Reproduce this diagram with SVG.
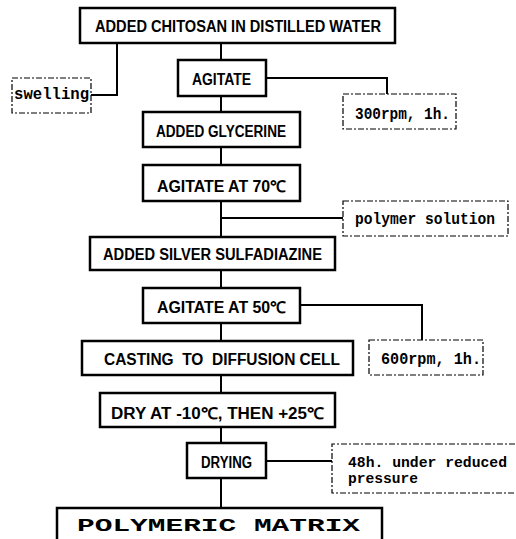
<svg xmlns="http://www.w3.org/2000/svg" width="516" height="539" viewBox="0 0 516 539">
<style>
.box{fill:#fff;stroke:#000;stroke-width:2.5}
.note{fill:#fff;stroke:#000;stroke-width:1.2;stroke-dasharray:6 2 2 2}
.t{font-family:"Liberation Sans",Arial,sans-serif;font-weight:bold;font-size:16px;fill:#000}
.n{font-family:"Liberation Mono","Courier New",monospace;font-weight:bold;font-size:16px;fill:#000}
.s{font-family:"Liberation Mono","Courier New",monospace;font-weight:bold;font-size:14px;fill:#000}
.big{font-family:"Liberation Mono","Courier New",monospace;font-weight:bold;font-size:18px;fill:#000}
.c{fill:none;stroke:#000;stroke-width:2}
</style>
<rect width="516" height="539" fill="#fff"/>
<g id="connectors">
<polyline class="c" points="117,43 117,95 91,95"/>
<line class="c" x1="221" y1="43" x2="221" y2="60"/>
<polyline class="c" points="266,78 387,78 387,94"/>
<line class="c" x1="221" y1="96" x2="221" y2="112"/>
<line class="c" x1="221" y1="147" x2="221" y2="165"/>
<line class="c" x1="221" y1="201" x2="221" y2="237"/>
<line class="c" x1="221" y1="218" x2="343" y2="218"/>
<line class="c" x1="221" y1="270" x2="221" y2="288"/>
<polyline class="c" points="300,305 422,305 422,340"/>
<line class="c" x1="221" y1="323" x2="221" y2="341"/>
<line class="c" x1="221" y1="375" x2="221" y2="393"/>
<line class="c" x1="221" y1="427" x2="221" y2="443"/>
<line class="c" x1="266" y1="461" x2="332" y2="461"/>
<line class="c" x1="221" y1="478" x2="221" y2="508"/>
</g>
<g id="n1"><rect class="box" x="80" y="8" width="315" height="35"/><text class="t" x="95" y="32" textLength="286" lengthAdjust="spacingAndGlyphs">ADDED CHITOSAN IN DISTILLED WATER</text></g>
<g id="swelling"><rect class="note" x="12" y="78" width="79" height="35"/><text class="n" x="14" y="99" textLength="75" lengthAdjust="spacingAndGlyphs">swelling</text></g>
<g id="n2"><rect class="box" x="178" y="60" width="88" height="36"/><text class="t" x="192" y="85" textLength="59" lengthAdjust="spacingAndGlyphs">AGITATE</text></g>
<g id="rpm300"><rect class="note" x="343" y="94" width="113" height="35"/><text class="n" x="355" y="119" textLength="95" lengthAdjust="spacingAndGlyphs">300rpm, 1h.</text></g>
<g id="n3"><rect class="box" x="143" y="112" width="157" height="35"/><text class="t" x="156" y="137" textLength="130" lengthAdjust="spacingAndGlyphs">ADDED GLYCERINE</text></g>
<g id="n4"><rect class="box" x="143" y="165" width="157" height="36"/><text class="t" x="157" y="192" textLength="129" lengthAdjust="spacingAndGlyphs">AGITATE AT 70℃</text></g>
<g id="polysol"><rect class="note" x="343" y="201" width="165" height="35"/><text class="n" x="355" y="224" textLength="140" lengthAdjust="spacingAndGlyphs">polymer solution</text></g>
<g id="n5"><rect class="box" x="90" y="237" width="245" height="33"/><text class="t" x="103" y="260" textLength="219" lengthAdjust="spacingAndGlyphs">ADDED SILVER SULFADIAZINE</text></g>
<g id="n6"><rect class="box" x="143" y="288" width="157" height="35"/><text class="t" x="157" y="313" textLength="129" lengthAdjust="spacingAndGlyphs">AGITATE AT 50℃</text></g>
<g id="rpm600"><rect class="note" x="369" y="340" width="114" height="35"/><text class="n" x="381" y="364" textLength="100" lengthAdjust="spacingAndGlyphs">600rpm, 1h.</text></g>
<g id="n7"><rect class="box" x="82" y="341" width="271" height="34"/><text class="t" x="104" y="365" textLength="236" lengthAdjust="spacingAndGlyphs" xml:space="preserve">CASTING  TO  DIFFUSION CELL</text></g>
<g id="n8"><rect class="box" x="100" y="393" width="235" height="34"/><text class="t" x="111" y="419" textLength="213" lengthAdjust="spacingAndGlyphs">DRY AT -10℃, THEN +25℃</text></g>
<g id="n9"><rect class="box" x="187" y="443" width="79" height="35"/><text class="t" x="201" y="468" textLength="51" lengthAdjust="spacingAndGlyphs">DRYING</text></g>
<g id="reduced"><path class="note" d="M515,444 H332 V493 H515"/><text class="s" x="348" y="467" textLength="159" lengthAdjust="spacingAndGlyphs">48h. under reduced</text><text class="s" x="348" y="483" textLength="70" lengthAdjust="spacingAndGlyphs">pressure</text></g>
<g id="n10"><rect class="box" x="57" y="508" width="325" height="40"/><text class="big" x="77" y="531" textLength="283" lengthAdjust="spacingAndGlyphs">POLYMERIC MATRIX</text></g>
</svg>
